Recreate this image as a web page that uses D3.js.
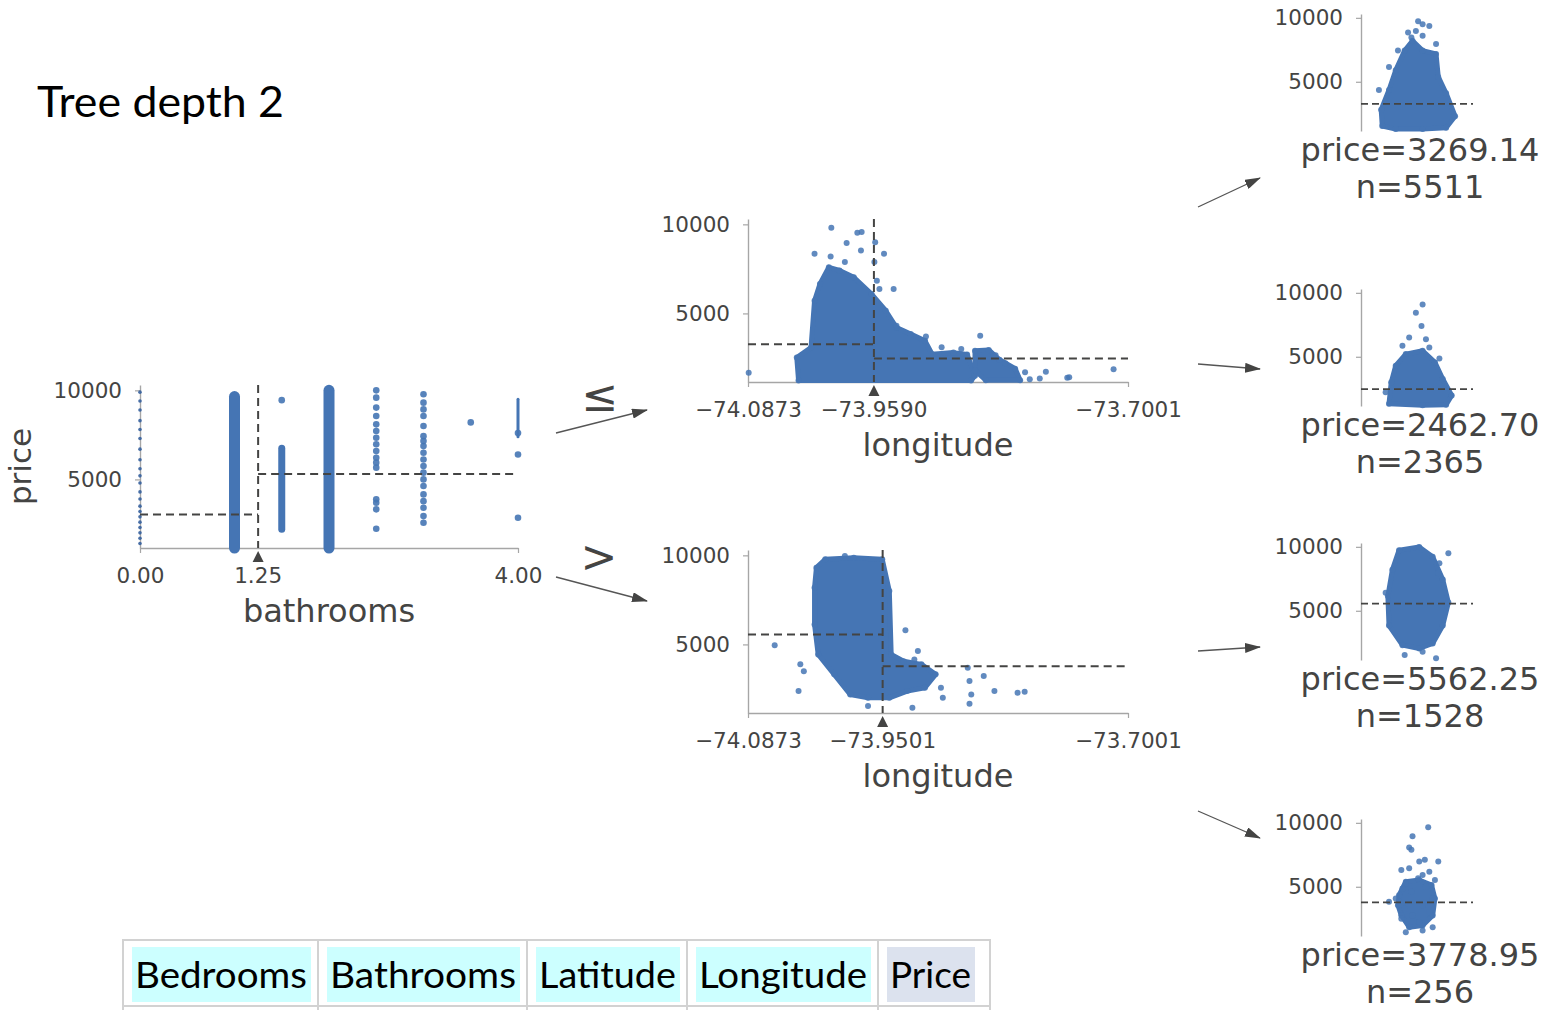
<!DOCTYPE html>
<html>
<head>
<meta charset="utf-8">
<script src="https://cdn.jsdelivr.net/npm/d3@7"></script>
<style>
  body { margin: 0; background: #fff; }
</style>
</head>
<body>
<svg id="chart" width="1546" height="1010"></svg>
<script>
// ---- data ----
const rootSplit = 1.25;
const rootMeans = [3030, 5310];
const midSplits = [-73.9590, -73.9501];
const midMeans = [[3269.14, 2462.70], [5562.25, 3778.95]];
const leafPrices = [3269.14, 2462.70, 5562.25, 3778.95];
const leafCounts = [5511, 2365, 1528, 256];
const priceTicks = [5000, 10000];
const bathExtent = [0, 4];
const lonExtent = [-74.0873, -73.7001];
const tableCols = ["Bedrooms", "Bathrooms", "Latitude", "Longitude", "Price"];

// bathrooms: dense columns [bath, low price, high price]
const bathDense = [[1, 1150, 9650], [1.5, 2200, 6750], [2, 1150, 10000], [4, 7400, 9500]];
// bathrooms: single points [bath, price]
const bathDots = [
  [0, 1400], [0, 1700], [0, 2000], [0, 2300], [0, 2600], [0, 2900], [0, 3200], [0, 3500], [0, 3900],
  [0, 4300], [0, 4800], [0, 5200], [0, 5600], [0, 6100], [0, 6700], [0, 7300], [0, 7800], [0, 8300],
  [0, 8900], [0, 9400], [0, 9900],
  [1.5, 9450],
  [2.5, 10000], [2.5, 9590], [2.5, 9030], [2.5, 8560], [2.5, 8090], [2.5, 7720], [2.5, 7340], [2.5, 6970],
  [2.5, 6590], [2.5, 6220], [2.5, 5940], [2.5, 5660], [2.5, 3880], [2.5, 3690], [2.5, 3320], [2.5, 2230],
  [3, 9780], [3, 9310], [3, 8930], [3, 8560], [3, 8000], [3, 7430], [3, 7150], [3, 6870], [3, 6500],
  [3, 6120], [3, 5750], [3, 5380], [3, 5000], [3, 4630], [3, 4160], [3, 3780], [3, 3410], [3, 2940], [3, 2570],
  [3.5, 8200],
  [4, 7600], [4, 6400], [4, 2850]
];

// longitude, bathrooms <= 1.25: dense areas and outliers [lon, price]
const lonTopBlobs = [
  [[-74.0358, 1230], [-74.0376, 2520], [-74.0231, 3080], [-74.0195, 5710], [-74.0140, 6650], [-74.0049, 7590],
   [-73.9940, 7410], [-73.9795, 7030], [-73.9614, 6090], [-73.9469, 5150], [-73.9360, 4210], [-73.9215, 3840],
   [-73.9069, 3460], [-73.8997, 2710], [-73.8780, 2800], [-73.8640, 2700], [-73.8560, 1500], [-73.8600, 1230]],
  [[-73.8560, 2900], [-73.8420, 2950], [-73.8310, 2400], [-73.8150, 1900], [-73.8100, 1250], [-73.8450, 1250],
   [-73.8560, 1800]]
];
const lonTopDots = [
  [-74.0024, 9810], [-73.9868, 8950], [-73.9759, 9530], [-73.9715, 9570], [-74.0195, 8350], [-74.0031, 8200],
  [-73.9886, 7880], [-73.9722, 8530], [-73.9577, 9000], [-73.9585, 7880], [-73.9560, 6840], [-73.9487, 8350],
  [-73.9534, 6370], [-73.9389, 6370], [-73.9360, 4310], [-73.8507, 3740], [-73.7148, 1860], [-73.7620, 1390],
  [-73.7600, 1420], [-73.7838, 1730], [-73.8002, 1300], [-73.7900, 1350], [-74.0866, 1670], [-73.9060, 3700],
  [-73.8900, 3100], [-73.8700, 3000], [-73.8350, 2650], [-73.8250, 2200], [-73.8050, 1700]
];

// longitude, bathrooms > 1.25
const lonBottomBlobs = [
  [[-74.0176, 9310], [-74.0086, 9780], [-73.9795, 9870], [-73.9505, 9780], [-73.9433, 8000], [-73.9414, 4440],
   [-73.9287, 4060], [-73.9106, 3880], [-73.8961, 3320], [-73.9070, 2570], [-73.9251, 2380], [-73.9433, 2000],
   [-73.9650, 2000], [-73.9832, 2190], [-73.9995, 3320], [-74.0158, 4440], [-74.0195, 6120], [-74.0195, 8180]]
];
const lonBottomDots = [
  [-74.0601, 4960], [-74.0340, 3880], [-74.0304, 3500], [-74.0358, 2380], [-73.9269, 5790], [-73.9178, 4160],
  [-73.9142, 4630], [-73.8634, 3690], [-73.8616, 2940], [-73.8598, 2190], [-73.8616, 1670], [-73.8471, 3220],
  [-73.8362, 2380], [-73.8126, 2280], [-73.8054, 2340], [-73.8907, 2570], [-73.8888, 2000], [-73.9650, 1540],
  [-73.9198, 1440], [-73.9886, 9960]
];

// leaves: jitter position (0..1 across the leaf) and price
const leafBlobs = [
  [[0.19, 1540], [0.18, 2820], [0.25, 4360], [0.31, 5900], [0.39, 7440], [0.46, 8200], [0.55, 7440], [0.67, 7180],
   [0.69, 5380], [0.76, 4100], [0.84, 2310], [0.76, 1410], [0.55, 1300], [0.31, 1300]],
  [[0.25, 1320], [0.27, 3000], [0.31, 4300], [0.40, 5210], [0.55, 5470], [0.66, 4560], [0.73, 3260], [0.81, 1970],
   [0.76, 1250], [0.55, 1200]],
  [[0.34, 9740], [0.52, 9980], [0.64, 9230], [0.73, 7440], [0.78, 5640], [0.73, 3850], [0.64, 2440], [0.52, 2050],
   [0.37, 2310], [0.25, 3850], [0.24, 6150], [0.28, 8200]],
  [[0.34, 4340], [0.40, 5400], [0.52, 5530], [0.63, 5130], [0.66, 4080], [0.64, 2760], [0.55, 1970], [0.43, 1840],
   [0.36, 2760], [0.33, 3550]]
];
const leafDots = [
  [[0.51, 9740], [0.55, 9490], [0.61, 9360], [0.49, 8970], [0.45, 8460], [0.55, 8590], [0.67, 7950], [0.33, 7440],
   [0.16, 4360], [0.25, 6150], [0.42, 8850]],
  [[0.55, 9090], [0.49, 8450], [0.54, 7410], [0.43, 6500], [0.58, 6370], [0.61, 5730], [0.70, 4870], [0.22, 2230],
   [0.37, 5860]],
  [[0.78, 9490], [0.39, 1540], [0.55, 1800], [0.67, 1280], [0.70, 8720], [0.69, 7950], [0.22, 6410]],
  [[0.60, 9660], [0.46, 8950], [0.43, 8080], [0.45, 7900], [0.57, 7110], [0.52, 6970], [0.69, 6970], [0.36, 6320],
   [0.43, 6450], [0.61, 6180], [0.55, 5920], [0.51, 5660], [0.66, 5530], [0.40, 5260], [0.37, 4870], [0.45, 4610],
   [0.58, 5000], [0.25, 3820], [0.31, 4080], [0.64, 4080], [0.39, 3290], [0.55, 3550], [0.61, 3030], [0.46, 2760],
   [0.36, 2500], [0.52, 2240], [0.64, 1840], [0.40, 1450], [0.55, 1580]]
];

// ---- layout and style ----
const BLUE = "#4575b4";
const DARK = "#444443";
const AXIS = "#a6a6a6";
const FONT = "DejaVu Sans";
const priceDomain = [1150, 10300];

const svg = d3.select("#chart");

svg.append("defs").append("marker")
  .attr("id", "head")
  .attr("markerUnits", "userSpaceOnUse")
  .attr("markerWidth", 16).attr("markerHeight", 10)
  .attr("refX", 15).attr("refY", 5)
  .attr("orient", "auto")
  .append("path").attr("d", "M0,0 L16,5 L0,10 Z").attr("fill", DARK);

function styleAxis(g) {
  g.select(".domain").attr("stroke", AXIS).attr("stroke-width", 1.4);
  g.selectAll(".tick line").attr("stroke", AXIS).attr("stroke-width", 1.2);
  g.selectAll(".tick text").attr("fill", DARK).attr("font-size", 21.5).attr("font-family", FONT);
}

function priceAxis(g, y, x0) {
  g.append("g")
    .attr("transform", `translate(${x0},0)`)
    .call(d3.axisLeft(y).tickValues(priceTicks).tickFormat(d3.format("d"))
      .tickSize(5).tickPadding(13).tickSizeOuter(0))
    .call(styleAxis);
}

function dashed(g, x1, y1, x2, y2, w) {
  g.append("line")
    .attr("x1", x1).attr("y1", y1).attr("x2", x2).attr("y2", y2)
    .attr("stroke", DARK).attr("stroke-width", w || 2)
    .attr("stroke-dasharray", "8,5");
}

function dots(g, data, x, y, r) {
  g.append("g")
    .selectAll("circle")
    .data(data)
    .join("circle")
    .attr("cx", d => x(d[0]))
    .attr("cy", d => y(d[1]))
    .attr("r", r)
    .attr("fill", BLUE)
    .attr("fill-opacity", 0.85);
}

function blobs(g, data, x, y) {
  const area = d3.line().curve(d3.curveLinearClosed).x(d => x(d[0])).y(d => y(d[1]));
  g.append("g").selectAll("path")
    .data(data)
    .join("path")
    .attr("d", area)
    .attr("fill", BLUE)
    .attr("stroke", BLUE)
    .attr("stroke-width", 5)
    .attr("stroke-linejoin", "round");
  data.forEach(b => dots(g, b, x, y, 3));
}

// split node: scatter, x axis with split marker, mean lines
function splitNode(box, x, fmt, split, means, label) {
  const g = svg.append("g");
  const y = d3.scaleLinear().domain(priceDomain).range([box.y0, box.y1]);
  priceAxis(g, y, box.x0);
  g.append("g")
    .attr("transform", `translate(0,${box.y0})`)
    .call(d3.axisBottom(x).tickValues(x.domain()).tickFormat(fmt).tickSize(5).tickPadding(15).tickSizeOuter(0))
    .call(styleAxis);
  const sx = x(split);
  g.append("text")
    .attr("x", sx).attr("y", box.y0 + 20).attr("dy", "0.71em")
    .attr("text-anchor", "middle")
    .attr("fill", DARK).attr("font-size", 21.5).attr("font-family", FONT)
    .text(fmt(split));
  g.append("text")
    .attr("x", (box.x0 + box.x1) / 2).attr("y", box.y0 + 74)
    .attr("text-anchor", "middle")
    .attr("fill", DARK).attr("font-size", 32).attr("font-family", FONT)
    .text(label);
  return { g, y, sx, finish() {
    dashed(g, sx, box.y1, sx, box.y0);
    dashed(g, box.x0, y(means[0]), sx, y(means[0]));
    dashed(g, sx, y(means[1]), box.x1, y(means[1]));
    g.append("path")
      .attr("d", `M${sx},${box.y0 + 3} L${sx - 5.5},${box.y0 + 14} L${sx + 5.5},${box.y0 + 14} Z`)
      .attr("fill", DARK);
  } };
}

// ---- root: bathrooms ----
const rootBox = { x0: 140, x1: 518, y0: 548, y1: 385 };
const xBath = d3.scaleLinear().domain(bathExtent).range([rootBox.x0, rootBox.x1]);
const root = splitNode(rootBox, xBath, d3.format(".2f"), rootSplit, rootMeans, "bathrooms");
const denseWidth = { 1: 11, 1.5: 7, 2: 11, 4: 3 };
root.g.append("g").selectAll("line")
  .data(bathDense)
  .join("line")
  .attr("x1", d => xBath(d[0])).attr("x2", d => xBath(d[0]))
  .attr("y1", d => root.y(d[1])).attr("y2", d => root.y(d[2]))
  .attr("stroke", BLUE).attr("stroke-width", d => denseWidth[d[0]])
  .attr("stroke-linecap", "round");
root.g.append("g").selectAll("circle")
  .data(bathDots)
  .join("circle")
  .attr("cx", d => xBath(d[0]))
  .attr("cy", d => root.y(d[1]))
  .attr("r", d => d[0] === 0 ? 1.8 : 3.3)
  .attr("fill", d => d[0] === 0 ? "#35609e" : BLUE)
  .attr("fill-opacity", 0.9);
root.finish();
svg.append("text")
  .attr("transform", `translate(31,${(rootBox.y0 + rootBox.y1) / 2}) rotate(-90)`)
  .attr("text-anchor", "middle")
  .attr("fill", DARK).attr("font-size", 31).attr("font-family", FONT)
  .text("price");

// ---- level 1: longitude ----
const midBoxes = [
  { x0: 748, x1: 1128, y0: 382, y1: 219 },
  { x0: 748, x1: 1128, y0: 713, y1: 550 }
];
const midBlobs = [lonTopBlobs, lonBottomBlobs];
const midDots = [lonTopDots, lonBottomDots];
midBoxes.forEach((box, i) => {
  const x = d3.scaleLinear().domain(lonExtent).range([box.x0, box.x1]);
  const node = splitNode(box, x, d3.format(".4f"), midSplits[i], midMeans[i], "longitude");
  blobs(node.g, midBlobs[i], x, node.y);
  dots(node.g, midDots[i], x, node.y, 3);
  node.finish();
});

// ---- leaves ----
const leafBoxes = [
  { ax: 1361, y0: 131, y1: 14 },
  { ax: 1361, y0: 406, y1: 289 },
  { ax: 1361, y0: 660, y1: 543 },
  { ax: 1361, y0: 936, y1: 819 }
];
leafBoxes.forEach((box, i) => {
  const g = svg.append("g");
  const y = d3.scaleLinear().domain(priceDomain).range([box.y0, box.y1]);
  const x = d3.scaleLinear().domain([0, 1]).range([box.ax, box.ax + 112]);
  priceAxis(g, y, box.ax);
  blobs(g, [leafBlobs[i]], x, y);
  dots(g, leafDots[i], x, y, 3);
  g.append("line")
    .attr("x1", x(0)).attr("x2", x(1))
    .attr("y1", y(leafPrices[i])).attr("y2", y(leafPrices[i]))
    .attr("stroke", DARK).attr("stroke-width", 1.8).attr("stroke-dasharray", "7,4");
  const t = g.append("text")
    .attr("text-anchor", "middle")
    .attr("fill", DARK).attr("font-size", 32).attr("font-family", FONT);
  t.append("tspan").attr("x", box.ax + 59).attr("y", box.y0 + 30).text(`price=${leafPrices[i].toFixed(2)}`);
  t.append("tspan").attr("x", box.ax + 59).attr("y", box.y0 + 67).text(`n=${leafCounts[i]}`);
});

// ---- edges ----
const arrows = [
  [556, 433, 647, 410], [556, 577, 647, 601],
  [1198, 207, 1260, 178], [1198, 364, 1260, 369],
  [1198, 651, 1260, 647], [1198, 811, 1260, 838]
];
svg.append("g").selectAll("line")
  .data(arrows)
  .join("line")
  .attr("x1", d => d[0]).attr("y1", d => d[1])
  .attr("x2", d => d[2]).attr("y2", d => d[3])
  .attr("stroke", "#555").attr("stroke-width", 1.3)
  .attr("marker-end", "url(#head)");
svg.append("text").attr("x", 600).attr("y", 411).attr("text-anchor", "middle")
  .attr("fill", DARK).attr("font-size", 44).attr("font-family", FONT).text("≤");
svg.append("text").attr("x", 599).attr("y", 572).attr("text-anchor", "middle")
  .attr("fill", DARK).attr("font-size", 44).attr("font-family", FONT).text(">");

// ---- title ----
svg.append("text")
  .attr("x", 37).attr("y", 117)
  .attr("font-size", 42).attr("font-family", "Lato").attr("fill", "#000")
  .attr("textLength", 247).attr("lengthAdjust", "spacingAndGlyphs")
  .text("Tree depth 2");

// ---- column table ----
const cellEdges = [123, 318, 527, 687, 878, 990];
const textWidths = [172, 186, 137, 168, 81];
const table = svg.append("g");
tableCols.forEach((name, i) => {
  const x0 = cellEdges[i];
  table.append("rect")
    .attr("x", x0 + 9).attr("y", 947)
    .attr("width", textWidths[i] + 7).attr("height", 55)
    .attr("fill", name === "Price" ? "#dce2ee" : "#ccffff");
  table.append("text")
    .attr("x", x0 + 12).attr("y", 988)
    .attr("font-size", 37).attr("font-family", "Lato").attr("fill", "#000")
    .attr("textLength", textWidths[i]).attr("lengthAdjust", "spacingAndGlyphs")
    .text(name);
});
table.append("path")
  .attr("d", `M${cellEdges[0]},1010 V940 H${cellEdges[5]} V1010 M${cellEdges[0]},1006 H${cellEdges[5]}` +
    cellEdges.slice(1, 5).map(e => ` M${e},940 V1010`).join(""))
  .attr("fill", "none").attr("stroke", "#d2d2d2").attr("stroke-width", 2);
</script>
</body>
</html>
